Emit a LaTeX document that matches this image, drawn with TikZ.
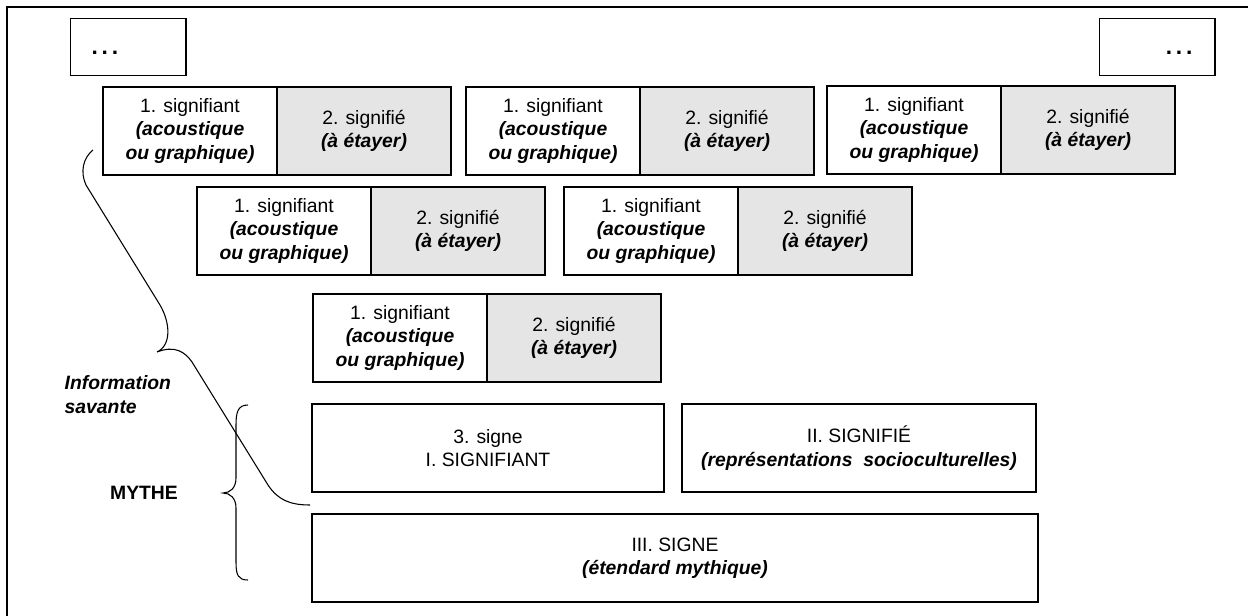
\documentclass[tikz,border=0pt]{standalone}
\usepackage{fontspec}
\setmainfont{Liberation Sans}
\usetikzlibrary{positioning}

\begin{document}
\begin{tikzpicture}[x=0.75pt,y=-0.75pt,
        every node/.style={font=\fontsize{14.5}{17.6}\selectfont},
        boite/.style={draw,line width=1.2pt,outer sep=0pt,inner sep=2pt,align=center},
        sfiant/.style={boite,anchor=north west,minimum width=130.5pt,minimum height=66pt},
        sfie/.style={boite,fill=black!10,minimum width=130.5pt,minimum height=66pt},
        grande/.style={boite,anchor=north west,minimum height=66pt},
        suite/.style={draw,line width=0.9pt,anchor=north west,minimum width=86.5pt,minimum height=42.75pt},
        points/.style={font=\fontsize{17}{18}\selectfont\bfseries},
        accolade/.style={line width=0.8pt}
    ]
    \useasboundingbox (0,0) rectangle (1248,616);
    \draw[line width=1pt] (7,616) |- (1248,7);

    % boites de suite
    \node[suite] (suite-g) at (70,18) {};
    \node[points,anchor=base west] (points-g) at (87,55) {.\hspace{2.8pt}.\hspace{2.8pt}.};
    \node[suite] (suite-d) at (1099,18) {};
    \node[points,anchor=base east] (points-d) at (1197,55) {.\hspace{2.8pt}.\hspace{2.8pt}.};

    % signes de la langue
    \foreach \nom/\x/\y in {a/103/87,b/466/87,c/827/86,d/197/187,e/564/187,f/313/294}{
      \node[sfiant] (sfiant-\nom) at (\x,\y)
        {1. signifiant\\\textbf{\textit{(acoustique}}\\\textbf{\textit{ou graphique)}}};
      \node[sfie,right=0pt of sfiant-\nom] (sfie-\nom)
        {2. signifié\\\textbf{\textit{(à étayer)}}};
    }

    % mythe
    \node[grande,minimum width=264pt] (signifiant-I) at (312,404) {3. signe\\I. SIGNIFIANT};
    \node[grande,minimum width=265.5pt] (signifie-II) at (682,404)
      {II. SIGNIFIÉ\\\textbf{\textit{(représentations~ socioculturelles)}}};
    \node[grande,minimum width=544.5pt] (signe-III) at (312,514)
      {III. SIGNE\\\textbf{\textit{(étendard mythique)}}};

    \node[anchor=west,align=left,font=\fontsize{14.5}{18}\selectfont\bfseries\itshape] (info) at (60,395)
      {Information\\savante};
    \node[font=\fontsize{14.5}{18}\selectfont\bfseries] (mythe) at (144,493) {MYTHE};

    % accolades
    \draw[accolade] (93,150) .. controls (83,158) and (80,172) .. (86,185) -- (160,305)
      .. controls (170,322) and (172,345) .. (157,352)
      .. controls (175,345) and (185,352) .. (192,362) -- (268,485)
      .. controls (278,500) and (290,505) .. (310,505);
    \draw[accolade] (248,405) .. controls (238,405) and (236,412) .. (236,425) -- (236,478)
      .. controls (236,488) and (230,493) .. (223,493)
      .. controls (230,493) and (236,498) .. (236,508) -- (236,562)
      .. controls (236,575) and (238,580) .. (248,580);
\end{tikzpicture}
\end{document}
